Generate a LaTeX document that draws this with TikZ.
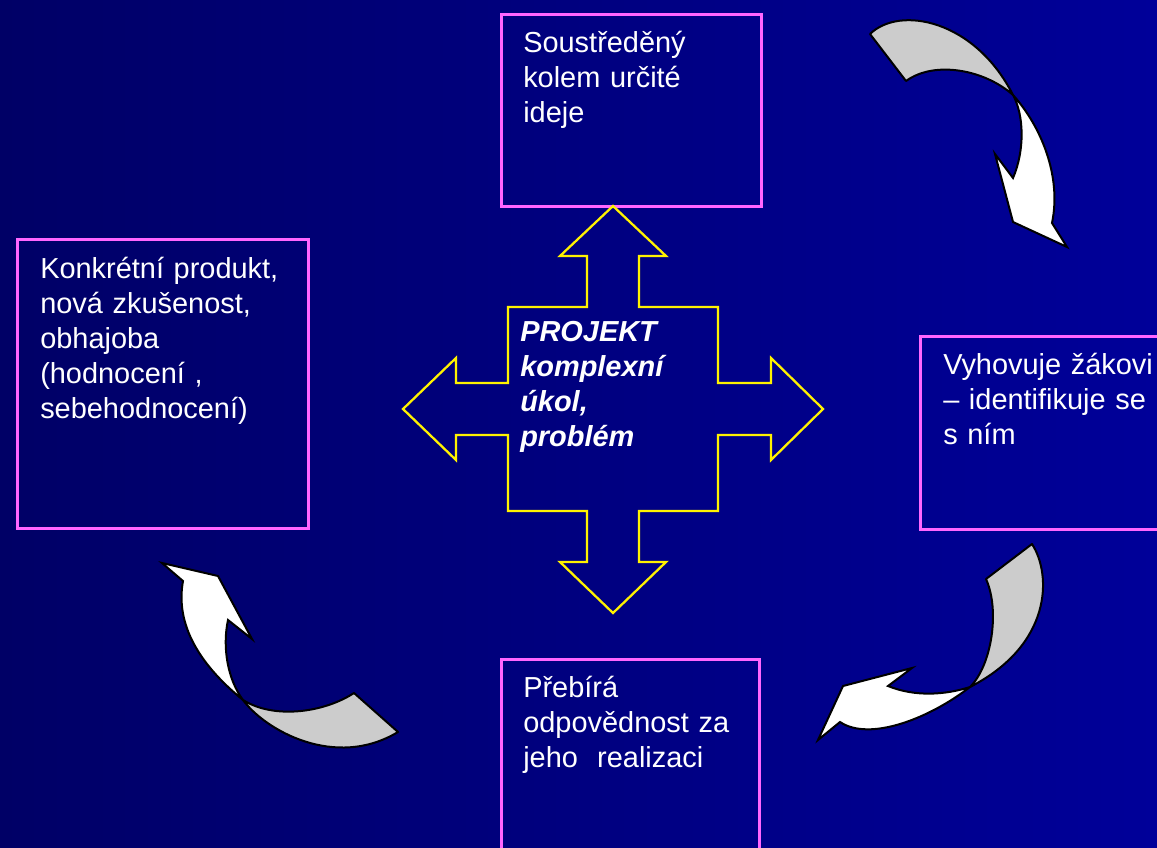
\documentclass[tikz,border=0pt]{standalone}
\usepackage{fontspec}
\setmainfont{Liberation Sans}
\usetikzlibrary{positioning}
\definecolor{bgleft}{RGB}{0,0,102}
\definecolor{bgright}{RGB}{0,0,153}
\definecolor{rim}{RGB}{255,102,255}
\definecolor{ribbon}{RGB}{204,204,204}

\begin{document}
\begin{tikzpicture}[x=0.75pt,y=-0.75pt,
	frame/.style={draw=rim,line width=2.2pt,anchor=north west,inner sep=0pt},
	txt/.style={text=white,anchor=base west,inner sep=0pt,text width=240pt,align=left,
		font=\fontsize{21.7}{26.25}\selectfont},
	core/.style={txt,font=\fontsize{21.7}{26.25}\selectfont\bfseries\itshape},
	cross/.style={draw=yellow,line width=1.7pt,line join=miter},
	back/.style={fill=ribbon,draw=black,line width=1.5pt,line join=round},
	front/.style={fill=white,draw=black,line width=1.5pt,line join=miter}]

% background
\useasboundingbox[left color=bgleft,right color=bgright] (0,0) rectangle (1157,848);

% boxes
\node[frame,minimum width=195pt,minimum height=144pt] (idea) at (500,13) {};
\node[frame,minimum width=218.25pt,minimum height=216.75pt] (product) at (16,238) {};
\node[frame,minimum width=188.25pt,minimum height=144.75pt] (pupil) at (919,335) {};
\node[frame,minimum width=193.5pt,minimum height=151.5pt] (duty) at (500,658) {};

\node[txt] (ideatext) at (523,53) {Soustředěný\\kolem určité\\ideje};
\node[txt] (producttext) at (40,279) {Konkrétní produkt,\\nová zkušenost,\\obhajoba\\(hodnocení ,\\sebehodnocení)};
\node[txt] (pupiltext) at (943,375) {Vyhovuje žákovi\\– identifikuje se\\s ním};
\node[txt] (dutytext) at (523,697) {Přebírá\\odpovědnost za\\jeho~ realizaci};

% four-way arrow
\draw[cross] (613,206) -- (666,256) -- (639,256) -- (639,307) -- (718,307)
	-- (718,383) -- (771,383) -- (771,358) -- (823,409) -- (771,460) -- (771,435) -- (718,435)
	-- (718,511) -- (639,511) -- (639,562) -- (666,562) -- (613,613) -- (560,562) -- (587,562) -- (587,511)
	-- (508,511) -- (508,435) -- (456,435) -- (456,460) -- (403,409) -- (456,358) -- (456,383) -- (508,383)
	-- (508,307) -- (587,307) -- (587,256) -- (560,256) -- cycle;
\node[core] (core) at (520,342) {PROJEKT\\komplexní\\úkol,\\problém};

% curved arrows
\draw[back] (870,34) .. controls (900,5) and (975,20) .. (1013,95)
	.. controls (985,70) and (935,60) .. (906,81) -- cycle;
\draw[front] (1013,95) .. controls (1040,125) and (1062,175) .. (1052,223) -- (1067,247) -- (1013,222)
	-- (995,154) -- (1013,178) .. controls (1025,150) and (1024,115) .. (1013,95) -- cycle;

\draw[back] (1032,544) .. controls (1052,575) and (1052,645) .. (970,687)
	.. controls (992,665) and (1000,610) .. (986,579) -- cycle;
\draw[front] (970,687) .. controls (930,718) and (870,742) .. (840,722) -- (818,740) -- (843,686)
	-- (912,668) -- (888,686) .. controls (915,697) and (945,695) .. (970,687) -- cycle;

\draw[back] (398,732) -- (354,693) .. controls (325,712) and (275,720) .. (243,700)
	.. controls (265,730) and (335,770) .. (398,732) -- cycle;
\draw[front] (243,700) .. controls (200,665) and (175,625) .. (183,581) -- (162,563) -- (218,576)
	-- (252,639) -- (228,620) .. controls (222,648) and (228,680) .. (243,700) -- cycle;
\end{tikzpicture}
\end{document}
